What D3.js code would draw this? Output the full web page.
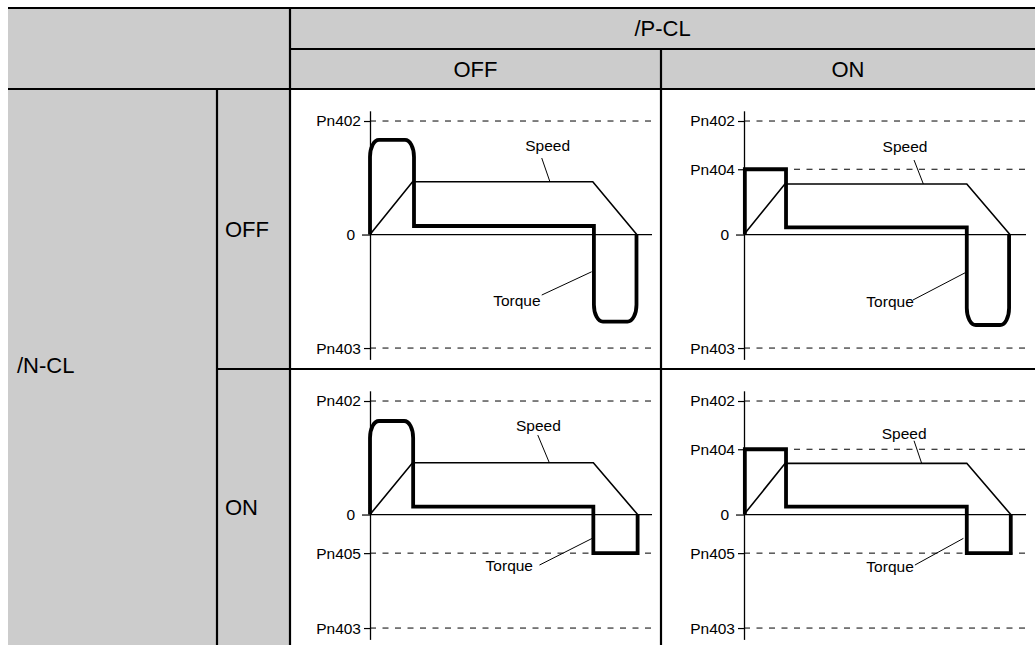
<!DOCTYPE html>
<html>
<head>
<meta charset="utf-8">
<script src="https://cdn.jsdelivr.net/npm/d3@7"></script>
<style>
  html, body { margin: 0; padding: 0; background: #fff; }
  svg { display: block; }
  text { font-family: "Liberation Sans", Arial, sans-serif; fill: #000; }
</style>
</head>
<body>
<svg id="chart" width="1035" height="645"></svg>
<script>
// ---------------- data ----------------
const groupTop = "/P-CL";
const groupLeft = "/N-CL";
const pclStates = ["OFF", "ON"];   // columns
const nclStates = ["OFF", "ON"];   // rows

const limitNames  = ["Pn402", "Pn403", "Pn404", "Pn405"];
const limitValues = [100, -100, 57.5, -34];
// panels in row-major order: (N-CL OFF, P-CL OFF), (OFF, ON), (ON, OFF), (ON, ON)
const panelLimits = [
  ["Pn402", "Pn403"],
  ["Pn402", "Pn404", "Pn403"],
  ["Pn402", "Pn405", "Pn403"],
  ["Pn402", "Pn404", "Pn405", "Pn403"]
];

const speedTime  = [[0, 15.1, 79.0, 94.6], [0, 14.5, 79.0, 94.3], [0, 15.1, 79.2, 94.9], [0, 14.6, 79.0, 94.6]];
const speedValue = [[0, 46.5, 46.5, 0], [0, 44.5, 44.5, 0], [0, 45.6, 45.6, 0], [0, 45.1, 45.1, 0]];

const torqueTime = [
  [0, 0, 15.6, 15.6, 79.4, 79.4, 94.5, 94.5],
  [0.3, 0.3, 14.9, 14.9, 79.0, 79.0, 94.0, 94.0],
  [0, 0, 15.3, 15.3, 79.2, 79.2, 94.9, 94.9],
  [0.3, 0.3, 14.9, 14.9, 79.0, 79.0, 94.6, 94.6]
];
const torqueValue = [
  [0, 83.3, 83.3, 7.5, 7.5, -76.8, -76.8, 0],
  [0, 57.5, 57.5, 6.3, 6.3, -79.7, -79.7, 0],
  [0, 82.4, 82.4, 6.9, 6.9, -34, -34, 0],
  [0, 57.5, 57.5, 6.9, 6.9, -34, -34, 0]
];
const torqueRounded = [
  [0, 1, 1, 0, 0, 1, 1, 0],
  [0, 0, 0, 0, 0, 1, 1, 0],
  [0, 1, 1, 0, 0, 0, 0, 0],
  [0, 0, 0, 0, 0, 0, 0, 0]
];

const seriesNames = ["Speed", "Torque"];
const speedLabelAt  = [[63.0, 74], [57.1, 72.7], [59.7, 73.6], [56.8, 66.5]];
const speedLeader   = [[60.9, 67.4, 63.8, 46.5], [60.3, 65.6, 63.6, 44.5], [59.5, 70, 63.6, 45.6], [60.3, 65, 63.0, 45.1]];
const torqueLabelAt = [[52.1, -63], [51.8, -64], [49.4, -49.8], [51.8, -51]];
const torqueLeader  = [[60.9, -53.3, 78.6, -32.8], [59.9, -57.7, 78.4, -33.7], [60.1, -44.5, 78.8, -21], [60.6, -44.5, 77.8, -21]];

// ---------------- layout ----------------
const svg = d3.select("#chart");
const L = 8, T = 8, R = 1035, B = 645;
const hdrMid = 49, hdrBot = 89, rowMid = 369;
const xSub = 217, xPlot = 290, xColMid = 661;
const grey = "#cccccc";

svg.append("rect").attr("x", L).attr("y", T).attr("width", R - L).attr("height", hdrBot - T).attr("fill", grey);
svg.append("rect").attr("x", L).attr("y", hdrBot).attr("width", xPlot - L).attr("height", B - hdrBot).attr("fill", grey);

const gridLines = [
  [L, T, R, T], [xPlot, hdrMid, R, hdrMid], [L, hdrBot, R, hdrBot], [xSub, rowMid, R, rowMid],
  [xPlot, T, xPlot, B], [xSub, hdrBot, xSub, B], [xColMid, hdrMid, xColMid, B]
];
svg.append("g").selectAll("line").data(gridLines).join("line")
  .attr("x1", d => d[0]).attr("y1", d => d[1]).attr("x2", d => d[2]).attr("y2", d => d[3])
  .attr("stroke", "#000").attr("stroke-width", 2.2);

const hdrFont = 22;
svg.append("text").attr("x", (xPlot + R) / 2).attr("y", (T + hdrMid) / 2).attr("dy", "0.35em")
  .attr("text-anchor", "middle").attr("font-size", hdrFont).text(groupTop);
const colX = [[xPlot, xColMid], [xColMid, R]];
pclStates.forEach((s, i) => {
  svg.append("text").attr("x", (colX[i][0] + colX[i][1]) / 2).attr("y", (hdrMid + hdrBot) / 2).attr("dy", "0.35em")
    .attr("text-anchor", "middle").attr("font-size", hdrFont).text(s);
});
svg.append("text").attr("x", 17).attr("y", 365).attr("dy", "0.35em").attr("font-size", hdrFont).text(groupLeft);
const rowY = [[hdrBot, rowMid], [rowMid, B]];
nclStates.forEach((s, i) => {
  svg.append("text").attr("x", 225).attr("y", (rowY[i][0] + rowY[i][1]) / 2).attr("dy", "0.35em")
    .attr("font-size", hdrFont).text(s);
});

// ---------------- panels ----------------
const axisXs = [370, 744];
function roundedPath(pts, flags) {
  const p = d3.path();
  const RX = 9, RY = 17, k = 0.5523;
  p.moveTo(pts[0][0], pts[0][1]);
  for (let i = 1; i < pts.length - 1; i++) {
    const c = pts[i];
    if (!flags[i]) { p.lineTo(c[0], c[1]); continue; }
    const a = pts[i - 1], n = pts[i + 1];
    const inLen = Math.hypot(c[0] - a[0], c[1] - a[1]);
    const outLen = Math.hypot(n[0] - c[0], n[1] - c[1]);
    const ui = [(c[0] - a[0]) / inLen, (c[1] - a[1]) / inLen];
    const uo = [(n[0] - c[0]) / outLen, (n[1] - c[1]) / outLen];
    const dIn = Math.min(Math.abs(ui[1]) > 0.5 ? RY : RX, inLen / 2);
    const dOut = Math.min(Math.abs(uo[1]) > 0.5 ? RY : RX, outLen / 2);
    const s = [c[0] - ui[0] * dIn, c[1] - ui[1] * dIn];
    const e = [c[0] + uo[0] * dOut, c[1] + uo[1] * dOut];
    p.lineTo(s[0], s[1]);
    p.bezierCurveTo(s[0] + ui[0] * dIn * k, s[1] + ui[1] * dIn * k,
                    e[0] - uo[0] * dOut * k, e[1] - uo[1] * dOut * k, e[0], e[1]);
  }
  const last = pts[pts.length - 1];
  p.lineTo(last[0], last[1]);
  return p.toString();
}

const lblFont = 15.5;
for (let r = 0; r < 2; r++) {
  for (let c = 0; c < 2; c++) {
    const idx = r * 2 + c;
    const rowTop = r === 0 ? hdrBot : rowMid;
    const ax = axisXs[c];
    const x = d3.scaleLinear().domain([0, 100]).range([ax, ax + 282]);
    const y = d3.scaleLinear().domain([-110, 109]).range([rowTop + 270.4, rowTop + 21.8]);
    const g = svg.append("g");

    const lims = panelLimits[idx].map(n => ({ name: n, v: limitValues[limitNames.indexOf(n)] }));

    // dashed limit lines
    g.selectAll("line.lim").data(lims).join("line").attr("class", "lim")
      .attr("x1", x(0)).attr("x2", x(100)).attr("y1", d => y(d.v)).attr("y2", d => y(d.v))
      .attr("stroke", "#000").attr("stroke-width", 1).attr("stroke-dasharray", "6,6.5");
    // zero line
    g.append("line").attr("x1", x(0)).attr("x2", x(100)).attr("y1", y(0)).attr("y2", y(0))
      .attr("stroke", "#000").attr("stroke-width", 1.2);

    // axis
    const tickVals = lims.map(d => d.v).concat([0]);
    const tickLab = new Map(lims.map(d => [d.v, d.name]));
    tickLab.set(0, "0");
    const axis = d3.axisLeft(y).tickValues(tickVals).tickFormat(v => tickLab.get(v))
      .tickSize(6).tickSizeOuter(0).tickPadding(3);
    const ag = g.append("g").attr("transform", `translate(${ax},0)`).call(axis);
    ag.attr("font-family", null).attr("font-size", null);
    ag.select(".domain").attr("stroke", "#000").attr("stroke-width", 1.3);
    ag.selectAll(".tick line").attr("stroke", "#000").attr("stroke-width", 1.2);
    ag.selectAll(".tick text").attr("font-size", lblFont).attr("fill", "#000");
    ag.selectAll(".tick").filter(d => d === 0).select("line").attr("x2", -8);
    ag.selectAll(".tick").filter(d => d === 0).select("text").attr("x", -15);

    // speed
    const sp = speedTime[idx].map((t, i) => [t, speedValue[idx][i]]);
    g.append("path").attr("d", d3.line().x(d => x(d[0])).y(d => y(d[1]))(sp))
      .attr("fill", "none").attr("stroke", "#000").attr("stroke-width", 1.6).attr("stroke-linejoin", "miter");

    // torque
    const tq = torqueTime[idx].map((t, i) => [x(t), y(torqueValue[idx][i])]);
    g.append("path").attr("d", roundedPath(tq, torqueRounded[idx]))
      .attr("fill", "none").attr("stroke", "#000").attr("stroke-width", 3.8)
      .attr("stroke-linejoin", "miter").attr("stroke-linecap", "butt");

    // labels & leaders
    const sl = speedLeader[idx], tl = torqueLeader[idx];
    g.append("line").attr("x1", x(sl[0])).attr("y1", y(sl[1])).attr("x2", x(sl[2])).attr("y2", y(sl[3]))
      .attr("stroke", "#000").attr("stroke-width", 1);
    g.append("line").attr("x1", x(tl[0])).attr("y1", y(tl[1])).attr("x2", x(tl[2])).attr("y2", y(tl[3]))
      .attr("stroke", "#000").attr("stroke-width", 1);
    g.append("text").attr("x", x(speedLabelAt[idx][0])).attr("y", y(speedLabelAt[idx][1]))
      .attr("text-anchor", "middle").attr("font-size", lblFont).text(seriesNames[0]);
    g.append("text").attr("x", x(torqueLabelAt[idx][0])).attr("y", y(torqueLabelAt[idx][1]))
      .attr("text-anchor", "middle").attr("font-size", lblFont).text(seriesNames[1]);
  }
}
</script>
</body>
</html>
